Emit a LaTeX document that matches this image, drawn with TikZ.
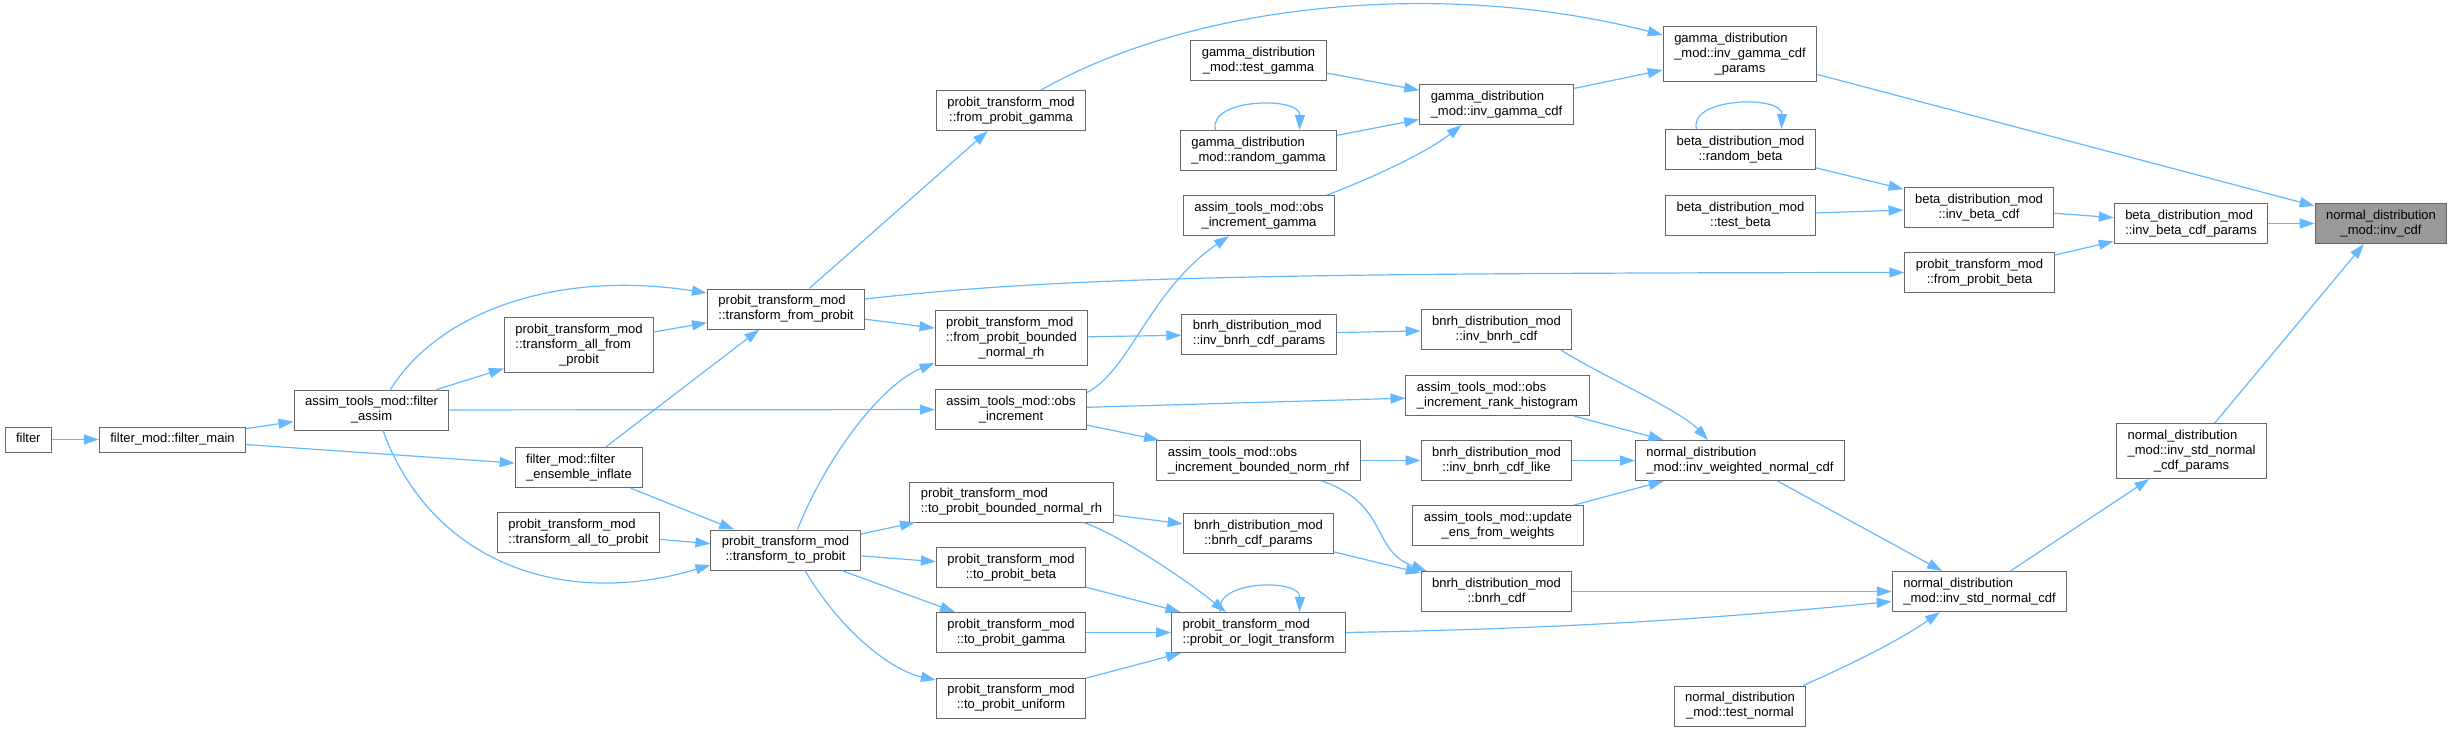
\documentclass[tikz,border=0pt]{standalone}
\usepackage{fontspec}
\setmainfont{Liberation Sans}
\usetikzlibrary{arrows.meta}
\definecolor{edgeblue}{HTML}{63B8FF}
\definecolor{boxgray}{HTML}{666666}
\definecolor{rootfill}{HTML}{999999}
\newcommand{\fnlabel}[2]{\begin{tabular}{@{}l@{}}#1\\\multicolumn{1}{@{}c@{}}{#2}\end{tabular}}

\begin{document}
\begin{tikzpicture}[x=1pt,y=-1pt,
	fn/.style={draw=boxgray,line width=1pt,fill=white,inner xsep=11pt,inner ysep=5pt,font=\fontsize{13}{15}\selectfont},
	call/.style={draw=edgeblue,line width=1.2pt,-{Triangle[length=15pt,width=10pt]}}]
			\useasboundingbox (0,0) rectangle (2452,732);
			
			\node[fn] (filt) at (28.3,439.5) {\strut filter};
			\node[fn] (fmain) at (172.5,439.5) {\strut filter\_mod::filter\_main};
			\node[fn] (fassim) at (371.5,410) {\fnlabel{assim\_tools\_mod::filter}{\_assim}};
			
			\node[fn] (allfrom) at (579,345) {\fnlabel{probit\_transform\_mod\\::transform\_all\_from}{\_probit}};
			\node[fn] (inflate) at (579,467.5) {\fnlabel{filter\_mod::filter}{\_ensemble\_inflate}};
			\node[fn] (allto) at (578.5,532.5) {\fnlabel{probit\_transform\_mod}{::transform\_all\_to\_probit}};
			
			\node[fn] (tfrom) at (786,309) {\fnlabel{probit\_transform\_mod}{::transform\_from\_probit}};
			\node[fn] (tto) at (785.5,550) {\fnlabel{probit\_transform\_mod}{::transform\_to\_probit}};
			
			\node[fn] (fpgamma) at (1011,110.5) {\fnlabel{probit\_transform\_mod}{::from\_probit\_gamma}};
			\node[fn] (fpbnrh) at (1011.5,338) {\fnlabel{probit\_transform\_mod\\::from\_probit\_bounded}{\_normal\_rh}};
			\node[fn] (obsinc) at (1011,409.5) {\fnlabel{assim\_tools\_mod::obs}{\_increment}};
			\node[fn] (tpbnrh) at (1011.5,502) {\fnlabel{probit\_transform\_mod}{::to\_probit\_bounded\_normal\_rh}};
			\node[fn] (tpbeta) at (1011,567.5) {\fnlabel{probit\_transform\_mod}{::to\_probit\_beta}};
			\node[fn] (tpgamma) at (1011,632.5) {\fnlabel{probit\_transform\_mod}{::to\_probit\_gamma}};
			\node[fn] (tpunif) at (1011,698) {\fnlabel{probit\_transform\_mod}{::to\_probit\_uniform}};
			
			\node[fn] (testgamma) at (1258.5,60.5) {\fnlabel{gamma\_distribution}{\_mod::test\_gamma}};
			\node[fn] (randgamma) at (1258.5,150.5) {\fnlabel{gamma\_distribution}{\_mod::random\_gamma}};
			\node[fn] (obsgamma) at (1259,215.5) {\fnlabel{assim\_tools\_mod::obs}{\_increment\_gamma}};
			\node[fn] (ibnrhpar) at (1259,334) {\fnlabel{bnrh\_distribution\_mod}{::inv\_bnrh\_cdf\_params}};
			\node[fn] (obsrhf) at (1258.5,460.5) {\fnlabel{assim\_tools\_mod::obs}{\_increment\_bounded\_norm\_rhf}};
			\node[fn] (bnrhpar) at (1258.5,533.5) {\fnlabel{bnrh\_distribution\_mod}{::bnrh\_cdf\_params}};
			\node[fn] (plt) at (1258.5,632.5) {\fnlabel{probit\_transform\_mod}{::probit\_or\_logit\_transform}};
			
			\node[fn] (igamma) at (1496.5,104.5) {\fnlabel{gamma\_distribution}{\_mod::inv\_gamma\_cdf}};
			\node[fn] (ibnrh) at (1496.5,329.5) {\fnlabel{bnrh\_distribution\_mod}{::inv\_bnrh\_cdf}};
			\node[fn] (obsrank) at (1497.5,395.5) {\fnlabel{assim\_tools\_mod::obs}{\_increment\_rank\_histogram}};
			\node[fn] (ibnrhlike) at (1496.5,460.5) {\fnlabel{bnrh\_distribution\_mod}{::inv\_bnrh\_cdf\_like}};
			\node[fn] (updens) at (1498,525.5) {\fnlabel{assim\_tools\_mod::update}{\_ens\_from\_weights}};
			\node[fn] (bnrh) at (1496.5,591.5) {\fnlabel{bnrh\_distribution\_mod}{::bnrh\_cdf}};
			
			\node[fn] (igammapar) at (1740,54) {\fnlabel{gamma\_distribution\\\_mod::inv\_gamma\_cdf}{\_params}};
			\node[fn] (randbeta) at (1740.5,149.5) {\fnlabel{beta\_distribution\_mod}{::random\_beta}};
			\node[fn] (testbeta) at (1740.5,215.5) {\fnlabel{beta\_distribution\_mod}{::test\_beta}};
			\node[fn] (iwnorm) at (1740,460.5) {\fnlabel{normal\_distribution}{\_mod::inv\_weighted\_normal\_cdf}};
			\node[fn] (testnorm) at (1740,706) {\fnlabel{normal\_distribution}{\_mod::test\_normal}};
			
			\node[fn] (ibeta) at (1979,207.5) {\fnlabel{beta\_distribution\_mod}{::inv\_beta\_cdf}};
			\node[fn] (fpbeta) at (1979.5,272.5) {\fnlabel{probit\_transform\_mod}{::from\_probit\_beta}};
			\node[fn] (isnorm) at (1979.5,591.5) {\fnlabel{normal\_distribution}{\_mod::inv\_std\_normal\_cdf}};
			
			\node[fn] (ibetapar) at (2191,223.5) {\fnlabel{beta\_distribution\_mod}{::inv\_beta\_cdf\_params}};
			\node[fn] (isnormpar) at (2191.5,451) {\fnlabel{normal\_distribution\\\_mod::inv\_std\_normal}{\_cdf\_params}};
			\node[fn,fill=rootfill] (invcdf) at (2381,223.5) {\fnlabel{normal\_distribution}{\_mod::inv\_cdf}};
			
			\draw[call] (filt) -- (fmain);
			\draw[call] (fmain) -- (fassim);
			\draw[call] (fmain) -- (inflate);
			\draw[call] ([xshift=19pt]fassim.north) .. controls (440,310) and (560,270) .. ([yshift=16pt]tfrom.west);
			\draw[call] (fassim) -- (allfrom);
			\draw[call] (fassim) -- (obsinc);
			\draw[call] ([xshift=11.5pt]fassim.south) .. controls (430,560) and (560,610) .. ([yshift=-15pt]tto.west);
			\draw[call] (allfrom) -- (tfrom);
			\draw[call] (inflate) -- (tfrom);
			\draw[call] (inflate) -- (tto);
			\draw[call] (allto) -- (tto);
			
			\draw[call] (tfrom) -- (fpgamma);
			\draw[call] (tfrom) -- (fpbnrh);
			\draw[call] ([yshift=10pt]tfrom.east) .. controls (1050,278) and (1250,273) .. (fpbeta.west);
			\draw[call] ([xshift=12pt]tto.north) .. controls (825,460) and (880,385) .. ([yshift=-25pt]fpbnrh.west);
			\draw[call] (tto) -- (tpbnrh);
			\draw[call] (tto) -- (tpbeta);
			\draw[call] (tto) -- (tpgamma);
			\draw[call] ([xshift=19.5pt]tto.south) .. controls (840,630) and (890,670) .. ([yshift=18pt]tpunif.west);
			
			\draw[call] ([xshift=30pt]fpgamma.north) .. controls (1200,0) and (1450,-20) .. ([yshift=19pt]igammapar.west);
			\draw[call] (fpbnrh) -- (ibnrhpar);
			\draw[call] ([yshift=17pt]obsinc.east) .. controls (1130,370) and (1150,290) .. ([xshift=-30pt]obsgamma.south);
			\draw[call] (obsinc) -- (obsrank);
			\draw[call] (obsinc) -- (obsrhf);
			\draw[call] (tpbnrh) -- (bnrhpar);
			\draw[call] ([xshift=71.5pt]tpbnrh.south) .. controls (1110,530) and (1180,575) .. ([xshift=-32.5pt]plt.north);
			\draw[call] (tpbeta) -- (plt);
			\draw[call] (tpgamma) -- (plt);
			\draw[call] (tpunif) -- (plt);
			
			\draw[call] (testgamma) -- (igamma);
			\draw[call] (randgamma) -- (igamma);
			\draw[call] ([xshift=-43pt]randgamma.north) .. controls +(-8,-32) and +(1,-34) .. ([xshift=41pt]randgamma.north);
			\draw[call] ([xshift=68pt]obsgamma.north) .. controls (1380,175) and (1430,150) .. ([xshift=-35pt]igamma.south);
			\draw[call] (ibnrhpar) -- (ibnrh);
			\draw[call] (obsrhf) -- (ibnrhlike);
			\draw[call] ([xshift=63.5pt]obsrhf.south) .. controls (1390,505) and (1370,550) .. ([xshift=-70pt]bnrh.north);
			\draw[call] (bnrhpar) -- (bnrh);
			\draw[call] ([xshift=-38pt]plt.north) .. controls +(-8,-32) and +(1,-34) .. ([xshift=41pt]plt.north);
			\draw[call] (plt.east) .. controls (1600,628) and (1750,615) .. ([yshift=-10pt]isnorm.west);
			
			\draw[call] (igamma) -- (igammapar);
			\draw[call] ([xshift=64.5pt]ibnrh.south) .. controls (1600,375) and (1680,410) .. ([xshift=-32pt]iwnorm.north);
			\draw[call] (obsrank) -- (iwnorm);
			\draw[call] (ibnrhlike) -- (iwnorm);
			\draw[call] (updens) -- (iwnorm);
			\draw[call] (bnrh) -- (isnorm);
			
			\draw[call] (igammapar) -- (invcdf);
			\draw[call] ([xshift=-44pt]randbeta.north) .. controls +(-8,-32) and +(1,-34) .. ([xshift=41pt]randbeta.north);
			\draw[call] (randbeta) -- (ibeta);
			\draw[call] (testbeta) -- (ibeta);
			\draw[call] (iwnorm) -- (isnorm);
			\draw[call] ([xshift=63pt]testnorm.north) .. controls (1850,665) and (1900,640) .. ([xshift=-39.5pt]isnorm.south);
			
			\draw[call] (ibeta) -- (ibetapar);
			\draw[call] (fpbeta) -- (ibetapar);
			\draw[call] (isnorm) -- (isnormpar);
			\draw[call] (ibetapar) -- (invcdf);
			\draw[call] (isnormpar) -- (invcdf);
\end{tikzpicture}
\end{document}
